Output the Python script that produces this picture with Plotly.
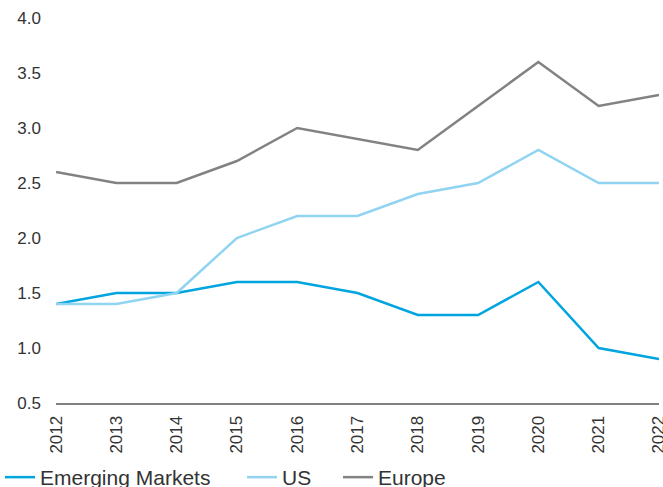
import plotly.graph_objects as go

years = [2012, 2013, 2014, 2015, 2016, 2017, 2018, 2019, 2020, 2021, 2022]
emerging = [1.4, 1.5, 1.5, 1.6, 1.6, 1.5, 1.3, 1.3, 1.6, 1.0, 0.9]
us = [1.4, 1.4, 1.5, 2.0, 2.2, 2.2, 2.4, 2.5, 2.8, 2.5, 2.5]
europe = [2.6, 2.5, 2.5, 2.7, 3.0, 2.9, 2.8, 3.2, 3.6, 3.2, 3.3]
y_ticks = [0.5, 1.0, 1.5, 2.0, 2.5, 3.0, 3.5, 4.0]

L, R, T, B = 56, 4, 18, 84
W, H = 663, 487
pw = W - L - R
ph = H - T - B


def px_x(p):
    return (p - L) / pw


fig = go.Figure()
fig.add_trace(go.Scatter(x=years, y=emerging, mode="lines", name="Emerging Markets",
                         line=dict(color="#00a5df", width=2.5), legend="legend"))
fig.add_trace(go.Scatter(x=years, y=us, mode="lines", name="US",
                         line=dict(color="#90d4f1", width=2.5), legend="legend2"))
fig.add_trace(go.Scatter(x=years, y=europe, mode="lines", name="Europe",
                         line=dict(color="#828282", width=2.5), legend="legend3"))

font = dict(family="Liberation Sans, Arial, sans-serif", size=17, color="#333333")
leg_font = dict(family="Liberation Sans, Arial, sans-serif", size=21, color="#333333")
leg_y = -(457 - (T + ph)) / ph


def leg(xpx):
    return dict(orientation="h", x=px_x(xpx), xanchor="left", y=leg_y, yanchor="top",
                font=leg_font, bgcolor="rgba(0,0,0,0)")


fig.update_layout(
    width=W, height=H,
    margin=dict(l=L, r=R, t=T, b=B, autoexpand=False),
    paper_bgcolor="white", plot_bgcolor="white",
    font=font,
    showlegend=True,
    legend=leg(0),
    legend2=leg(242),
    legend3=leg(338),
    xaxis=dict(range=[2011.999, 2022.001], tickvals=years, ticktext=[str(y) for y in years],
               tickangle=-90, showgrid=False, zeroline=False, automargin=False,
               ticklabeloverflow="allow", ticklabelstandoff=4,
               showline=True, linecolor="#808080", linewidth=2,
               ticks="", ticklen=0, tickfont=font),
    yaxis=dict(range=[0.5, 4.0], tickvals=y_ticks, automargin=False,
               ticklabeloverflow="allow", ticklabelstandoff=14,
               ticktext=[f"{v:.1f}" for v in y_ticks],
               showgrid=False, zeroline=False, showline=False,
               ticks="", tickfont=font),
)
fig.write_html(
    "out.html",
    config={"displayModeBar": False},
    post_script="document.body.style.margin='0';document.body.style.padding='0';"
                "document.body.style.overflow='hidden';",
)
